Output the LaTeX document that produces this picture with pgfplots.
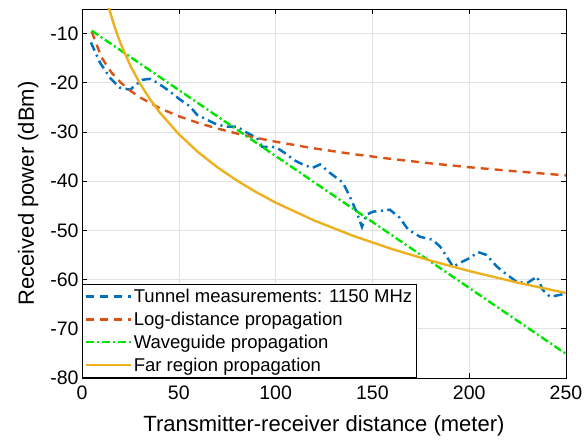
\documentclass[border=0pt]{standalone}
\usepackage{fontspec}
\setmainfont{Liberation Sans}
\usepackage{pgfplots}
\pgfplotsset{compat=1.18}
\definecolor{mblue}{rgb}{0,0.447,0.741}
\definecolor{mred}{rgb}{0.85,0.325,0.098}
\definecolor{mgreen}{rgb}{0,0.9,0}
\definecolor{morange}{rgb}{0.929,0.694,0.125}
\begin{document}
\begin{tikzpicture}
\begin{axis}[
  scale only axis, width=484pt, height=369pt,
  xmin=0, xmax=250, ymin=-80, ymax=-5,
  xtick={0,50,...,250}, ytick={-80,-70,...,-10},
  tick align=inside, major tick length=5pt,
  grid=major, grid style={gray!22, line width=0.6pt},
  axis line style={line width=0.8pt},
  every tick/.style={black, line width=0.6pt},
  xlabel={Transmitter-receiver distance (meter)},
  ylabel={Received power (dBm)},
  tick label style={font=\fontsize{19.5}{22}\selectfont},
  xticklabel style={yshift=-4pt},
  label style={font=\fontsize{22}{25}\selectfont},
  xlabel style={yshift=-9pt},
  ylabel style={yshift=5pt},
  /pgf/number format/assume math mode=true,
  legend style={at={(0,0)}, anchor=south west, draw=black, line width=0.7pt,
    font=\fontsize{18.5}{21}\selectfont, row sep=4pt, inner xsep=2pt, inner ysep=3pt},
  legend cell align=left,
  legend image code/.code={\draw[#1] (0pt,0pt) -- (45pt,0pt);},
]
\addplot[mblue, line width=2.5pt, dash pattern=on 9pt off 4.5pt on 2pt off 4.5pt,
  legend image post style={dash pattern=on 8pt off 6pt}] coordinates {
(4.6,-11.8)(9.3,-15.9)(14.5,-19.0)(19.6,-21.0)(24.8,-21.4)(27.4,-20.6)(31,-19.4)(35,-19.2)(39,-20.0)(45.5,-21.8)(50.6,-23.4)(55.8,-24.8)(59.4,-26.5)(64.6,-27.5)(69.7,-28.5)(74.9,-28.9)(80,-28.9)(85,-30.1)(90.4,-31.2)(93,-33)(98,-33)(100.7,-33.2)(106,-34.6)(109,-35.6)(114,-36.6)(119,-37.3)(123,-36.6)(128,-38.3)(134.8,-40.3)(138.4,-43.2)(142,-46.4)(144.6,-49.3)(147,-46.8)(150.3,-46.2)(159,-45.8)(164,-47.4)(168.4,-49.8)(174.6,-51.3)(181,-51.9)(185,-53.3)(188.5,-55.4)(191.6,-57.4)(195.2,-56.6)(200.4,-55.6)(204.5,-54.4)(209,-55)(214.4,-57.4)(219.5,-59)(224.7,-60.5)(230,-60.7)(235,-59.4)(238,-62.1)(241.7,-63.5)(247,-63.1)(250,-62.7)
};
\addlegendentry{Tunnel measurements: 1150 MHz}
\addplot[mred, line width=2.4pt, dash pattern=on 8pt off 6pt] coordinates {
(5,-9.6)(10,-14.78)(15,-17.81)(20,-19.96)(25,-21.62)(30,-22.98)(40,-25.13)(50,-26.8)(60,-28.16)(70,-29.31)(80,-30.31)(90,-31.19)(100,-31.98)(120,-33.34)(140,-34.49)(160,-35.49)(180,-36.37)(200,-37.16)(225,-38.03)(250,-38.82)
};
\addlegendentry{Log-distance propagation}
\addplot[mgreen, line width=2.4pt, dash pattern=on 8pt off 3pt on 2pt off 3pt] coordinates {
(5,-9.4)(250,-75.1)
};
\addlegendentry{Waveguide propagation}
\addplot[morange, line width=2.4pt] coordinates {
(12,-1.81)(14,-4.9)(16,-7.58)(18,-9.94)(20,-12.06)(25,-16.53)(30,-20.19)(35,-23.28)(40,-25.96)(50,-30.44)(60,-34.1)(70,-37.19)(80,-39.87)(90,-42.23)(100,-44.35)(120,-48.0)(140,-51.1)(160,-53.78)(180,-56.14)(200,-58.26)(225,-60.62)(250,-62.73)
};
\addlegendentry{Far region propagation}
\end{axis}
\pgfresetboundingbox
\path ([xshift=-82pt,yshift=-63pt]current axis.south west) rectangle ([xshift=20pt,yshift=9pt]current axis.north east);
\end{tikzpicture}
\end{document}
